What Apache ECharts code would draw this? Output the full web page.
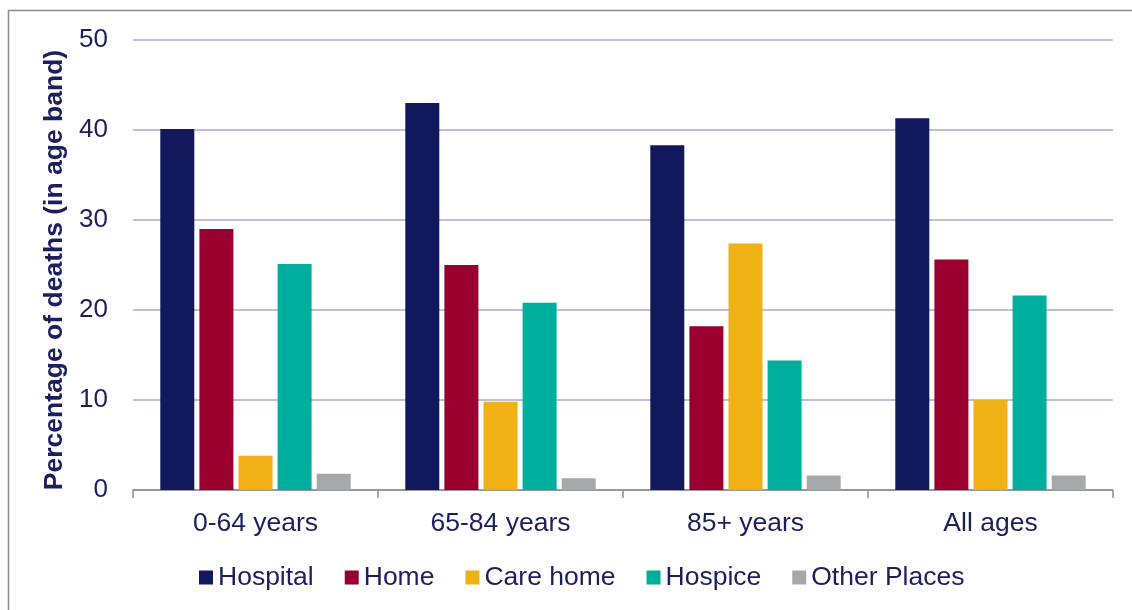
<!DOCTYPE html>
<html>
<head>
<meta charset="utf-8">
<script src="https://cdn.jsdelivr.net/npm/echarts@6/dist/echarts.min.js"></script>
<style>
html,body{margin:0;padding:0;background:#fff;}
#chart{width:1132px;height:610px;}
</style>
</head>
<body>
<div id="chart"></div>
<script>
const categories = ['0-64 years', '65-84 years', '85+ years', 'All ages'];
const hospital = [40.1, 43.0, 38.3, 41.3];
const home = [29.0, 25.0, 18.2, 25.6];
const careHome = [3.8, 9.8, 27.4, 10.0];
const hospice = [25.1, 20.8, 14.4, 21.6];
const otherPlaces = [1.8, 1.3, 1.6, 1.6];
const seriesNames = ['Hospital', 'Home', 'Care home', 'Hospice', 'Other Places'];
const seriesData = [hospital, home, careHome, hospice, otherPlaces];
const colors = ['#12185C', '#990030', '#EFB116', '#00AE9E', '#A7A8AC'];
const yTicks = [0, 10, 20, 30, 40, 50];

const textColor = '#1B1F5E';
const font = 'Liberation Sans, Arial, sans-serif';

const chart = echarts.init(document.getElementById('chart'));
chart.setOption({
  animation: false,
  backgroundColor: '#fff',
  color: colors,
  graphic: [{
    type: 'rect',
    shape: { x: 8.5, y: 10.5, width: 1200, height: 700 },
    style: { fill: 'none', stroke: '#8C8C8C', lineWidth: 1.5 },
    silent: true, z: -1
  }],
  grid: { left: 133, right: 19, top: 40, bottom: 120 },
  legend: {
    bottom: 14,
    left: 194,
    itemWidth: 14,
    itemHeight: 14,
    itemGap: 31,
    icon: 'rect',
    textStyle: { color: textColor, fontSize: 26.5, fontFamily: font, padding: [0, 0, 0, 0] },
    data: seriesNames
  },
  xAxis: {
    type: 'category',
    data: categories,
    axisLine: { lineStyle: { color: '#8C8C8C', width: 1.5 } },
    axisTick: { show: true, length: 8, lineStyle: { color: '#8C8C8C', width: 1.5 } },
    axisLabel: { color: textColor, fontSize: 26.5, fontFamily: font, margin: 20 }
  },
  yAxis: {
    type: 'value',
    min: yTicks[0],
    max: yTicks[yTicks.length - 1],
    interval: 10,
    name: 'Percentage of deaths (in age band)',
    nameLocation: 'middle',
    nameGap: 58,
    nameTextStyle: { color: textColor, fontSize: 26.5, fontWeight: 'bold', fontFamily: font, padding: [0, 10, 0, 0] },
    axisLine: { show: false },
    axisTick: { show: false },
    axisLabel: { color: textColor, fontSize: 26, fontFamily: font, margin: 25 },
    splitLine: { lineStyle: { color: '#A9AACB', width: 1.5 } }
  },
  series: seriesData.map((d, i) => ({
    name: seriesNames[i],
    type: 'bar',
    data: d,
    barWidth: 34,
    barGap: '15%',
    barCategoryGap: '22%',
    itemStyle: { color: colors[i] }
  }))
});
</script>
</body>
</html>
